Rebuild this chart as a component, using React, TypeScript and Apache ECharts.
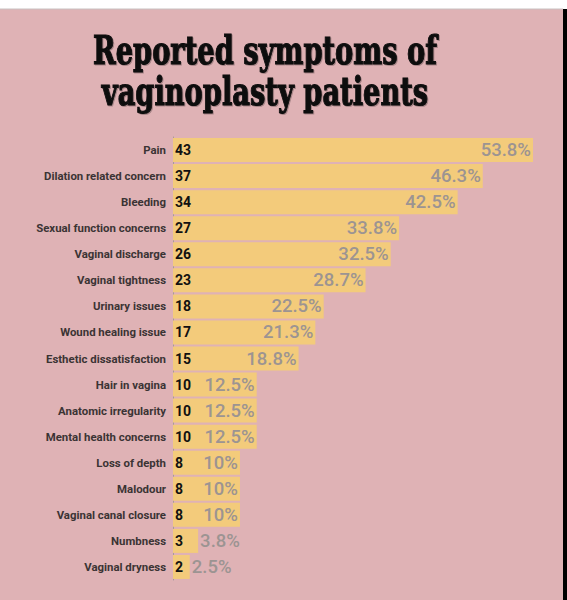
import { useEffect, useRef } from "react";
import * as echarts from "echarts";

const categories = [
  "Pain",
  "Dilation related concern",
  "Bleeding",
  "Sexual function concerns",
  "Vaginal discharge",
  "Vaginal tightness",
  "Urinary issues",
  "Wound healing issue",
  "Esthetic dissatisfaction",
  "Hair in vagina",
  "Anatomic irregularity",
  "Mental health concerns",
  "Loss of depth",
  "Malodour",
  "Vaginal canal closure",
  "Numbness",
  "Vaginal dryness",
];

const counts = [43, 37, 34, 27, 26, 23, 18, 17, 15, 10, 10, 10, 8, 8, 8, 3, 2];

const percents = [
  "53.8%", "46.3%", "42.5%", "33.8%", "32.5%", "28.7%", "22.5%", "21.3%", "18.8%",
  "12.5%", "12.5%", "12.5%", "10%", "10%", "10%", "3.8%", "2.5%",
];

const titleLines = ["Reported symptoms of", "vaginoplasty patients"];

const PINK = "#dfb2b5";
const BAR = "#f3cb7b";

export default function App() {
  const ref = useRef<HTMLDivElement | null>(null);

  useEffect(() => {
    if (!ref.current) return;
    const chart = echarts.init(ref.current, undefined, { renderer: "svg" });
    chart.setOption({
      animation: false,
      backgroundColor: "#ffffff",
      graphic: [
        { type: "rect", z: -10, silent: true, shape: { x: 0, y: 9, width: 563, height: 591 }, style: { fill: PINK } },
        { type: "rect", z: -10, silent: true, shape: { x: 563, y: 9, width: 4, height: 591 }, style: { fill: "#000" } },
        { type: "line", z: -10, silent: true, shape: { x1: 0, y1: 9, x2: 563, y2: 9 }, style: { stroke: "#c8c0c0", lineWidth: 1 } },
        ...titleLines.map((line, i) => ({
          type: "text",
          x: 265,
          y: 70 + i * 41,
          scaleX: 0.7,
          silent: true,
          style: {
            text: line,
            fill: "#0a0a0a",
            font: "bold 39px 'DejaVu Serif'",
            textAlign: "center",
            textVerticalAlign: "bottom",
            stroke: "#0a0a0a",
            lineWidth: 1.2,
            textShadowColor: "rgba(0,0,0,0.25)",
            textShadowOffsetX: 1,
            textShadowOffsetY: 1,
            textShadowBlur: 1,
          },
        })),
      ],
      grid: { left: 173, right: 34, top: 137, bottom: 20, containLabel: false },
      xAxis: { type: "value", min: 0, max: 43, show: false },
      yAxis: {
        type: "category",
        inverse: true,
        data: categories,
        axisTick: { show: false },
        axisLine: { show: true, lineStyle: { color: "#a89a9a", width: 1 } },
        axisLabel: {
          margin: 7,
          color: "#3b3434",
          fontFamily: "Roboto",
          fontWeight: "bold",
          fontSize: 11.4,
        },
      },
      series: [
        {
          type: "bar",
          data: counts,
          barWidth: 24,
          itemStyle: { color: BAR },
          label: {
            show: true,
            position: "insideLeft",
            distance: 2,
            color: "#111",
            fontFamily: "Roboto",
            fontWeight: "bold",
            fontSize: 14,
          },
        },
        {
          type: "bar",
          data: counts.map((v, i) => ({
            value: v,
            label: {
              position: v < 5 ? "right" : "insideRight",
              distance: 2,
              formatter: percents[i],
            },
          })),
          barWidth: 24,
          barGap: "-100%",
          itemStyle: { color: "rgba(0,0,0,0)" },
          label: {
            show: true,
            color: "#9c9492",
            fontFamily: "Roboto",
            fontWeight: 500,
            fontSize: 18.5,
          },
        },
      ],
    });
    return () => chart.dispose();
  }, []);

  return <div ref={ref} style={{ position: "fixed", left: 0, top: 0, width: 567, height: 600 }} />;
}
